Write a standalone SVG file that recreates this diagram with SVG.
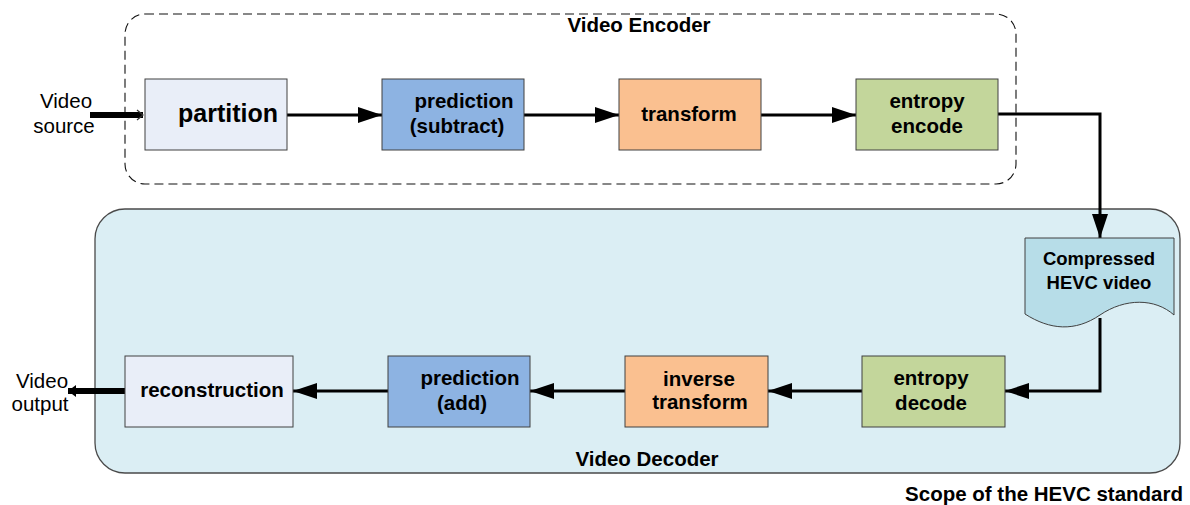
<svg xmlns="http://www.w3.org/2000/svg" width="1190" height="505" viewBox="0 0 1190 505">
  <defs>
    <style>
      .lbl { font-family: "Liberation Sans", Arial, sans-serif; font-weight: bold; font-size: 20.5px; fill: #000; }
      .plain { font-family: "Liberation Sans", Arial, sans-serif; font-size: 20.5px; fill: #000; }
      .box { stroke: #404040; stroke-width: 1; }
      .conn { fill: none; stroke: #000; stroke-width: 3; }
    </style>
    <marker id="arrow" markerUnits="userSpaceOnUse" viewBox="0 0 24 16" refX="24" refY="8" markerWidth="24" markerHeight="16" orient="auto">
      <path d="M0,0 L24,8 L0,16 Z" fill="#000"/>
    </marker>
    <marker id="openTip" markerUnits="userSpaceOnUse" viewBox="0 0 8 12" refX="7" refY="6" markerWidth="8" markerHeight="12" orient="auto">
      <path d="M1,1 L7,6 L1,11" fill="none" stroke="#333" stroke-width="1.2"/>
    </marker>
    <marker id="smallTip" markerUnits="userSpaceOnUse" viewBox="0 0 8 12" refX="8" refY="6" markerWidth="8" markerHeight="12" orient="auto">
      <path d="M0,0 L8,6 L0,12 Z" fill="#000"/>
    </marker>
  </defs>

  <rect width="1190" height="505" fill="#ffffff"/>

  <!-- encoder frame -->
  <g id="encoder">
    <rect x="125" y="14" width="891" height="170" rx="20" ry="20" fill="none" stroke="#111" stroke-width="1.1" stroke-dasharray="9,5"/>
    <text class="lbl" x="639" y="32" text-anchor="middle">Video Encoder</text>
  </g>

  <!-- decoder frame -->
  <g id="decoder">
    <rect x="95" y="209" width="1085" height="264" rx="30" ry="30" fill="#dbeef4" stroke="#4a4a4a" stroke-width="1.3"/>
    <text class="lbl" x="647" y="466" text-anchor="middle">Video Decoder</text>
  </g>

  <text id="scope" class="lbl" x="1183" y="501" text-anchor="end">Scope of the HEVC standard</text>

  <!-- connectors -->
  <g id="connectors">
    <line class="conn" x1="287" y1="115" x2="382" y2="115" marker-end="url(#arrow)"/>
    <line class="conn" x1="524" y1="115" x2="619" y2="115" marker-end="url(#arrow)"/>
    <line class="conn" x1="761" y1="115" x2="856" y2="115" marker-end="url(#arrow)"/>
    <polyline class="conn" points="998,114 1100,114 1100,238" marker-end="url(#arrow)"/>
    <polyline class="conn" points="1100,318 1100,391 1005,391" marker-end="url(#arrow)"/>
    <line class="conn" x1="862" y1="391" x2="768" y2="391" marker-end="url(#arrow)"/>
    <line class="conn" x1="625" y1="391" x2="530" y2="391" marker-end="url(#arrow)"/>
    <line class="conn" x1="388" y1="391" x2="293" y2="391" marker-end="url(#arrow)"/>
    <line x1="90" y1="115" x2="143" y2="115" stroke="#000" stroke-width="6" marker-end="url(#openTip)"/>
    <line x1="125" y1="391" x2="68" y2="391" stroke="#000" stroke-width="6" marker-end="url(#smallTip)"/>
  </g>

  <!-- input / output labels -->
  <g id="video-source">
    <text class="plain" x="66" y="108" text-anchor="middle">Video</text>
    <text class="plain" x="64" y="133" text-anchor="middle">source</text>
  </g>
  <g id="video-output">
    <text class="plain" x="42" y="388" text-anchor="middle">Video</text>
    <text class="plain" x="40" y="411" text-anchor="middle">output</text>
  </g>

  <!-- encoder stages -->
  <g id="partition">
    <rect class="box" x="145" y="79" width="142" height="71" fill="#e9eef8"/>
    <text class="lbl" x="228" y="122" text-anchor="middle" style="font-size:25px">partition</text>
  </g>
  <g id="prediction-subtract">
    <rect class="box" x="382" y="79" width="142" height="71" fill="#8db3e2"/>
    <text class="lbl" x="464" y="108" text-anchor="middle">prediction</text>
    <text class="lbl" x="457" y="133" text-anchor="middle">(subtract)</text>
  </g>
  <g id="transform">
    <rect class="box" x="619" y="79" width="142" height="71" fill="#fac090"/>
    <text class="lbl" x="689" y="121" text-anchor="middle">transform</text>
  </g>
  <g id="entropy-encode">
    <rect class="box" x="856" y="79" width="142" height="71" fill="#c3d69b"/>
    <text class="lbl" x="927" y="108" text-anchor="middle">entropy</text>
    <text class="lbl" x="927" y="133" text-anchor="middle">encode</text>
  </g>

  <!-- bitstream -->
  <g id="bitstream">
    <path d="M1025,238 H1174 V315 C1155,298 1125,298 1100,315 C1075,332 1050,330 1025,314 Z" fill="#b7dde8" stroke="#404040" stroke-width="1"/>
    <text class="lbl" x="1099" y="265" text-anchor="middle" style="font-size:18.5px">Compressed</text>
    <text class="lbl" x="1099" y="289" text-anchor="middle" style="font-size:18.5px">HEVC video</text>
  </g>

  <!-- decoder stages -->
  <g id="entropy-decode">
    <rect class="box" x="862" y="356" width="143" height="71" fill="#c3d69b"/>
    <text class="lbl" x="931" y="385" text-anchor="middle">entropy</text>
    <text class="lbl" x="931" y="410" text-anchor="middle">decode</text>
  </g>
  <g id="inverse-transform">
    <rect class="box" x="625" y="356" width="143" height="71" fill="#fac090"/>
    <text class="lbl" x="699" y="386" text-anchor="middle">inverse</text>
    <text class="lbl" x="700" y="409" text-anchor="middle">transform</text>
  </g>
  <g id="prediction-add">
    <rect class="box" x="388" y="356" width="142" height="71" fill="#8db3e2"/>
    <text class="lbl" x="470" y="385" text-anchor="middle">prediction</text>
    <text class="lbl" x="462" y="410" text-anchor="middle">(add)</text>
  </g>
  <g id="reconstruction">
    <rect class="box" x="125" y="356" width="168" height="71" fill="#e9eef8"/>
    <text class="lbl" x="212" y="397" text-anchor="middle">reconstruction</text>
  </g>
</svg>
